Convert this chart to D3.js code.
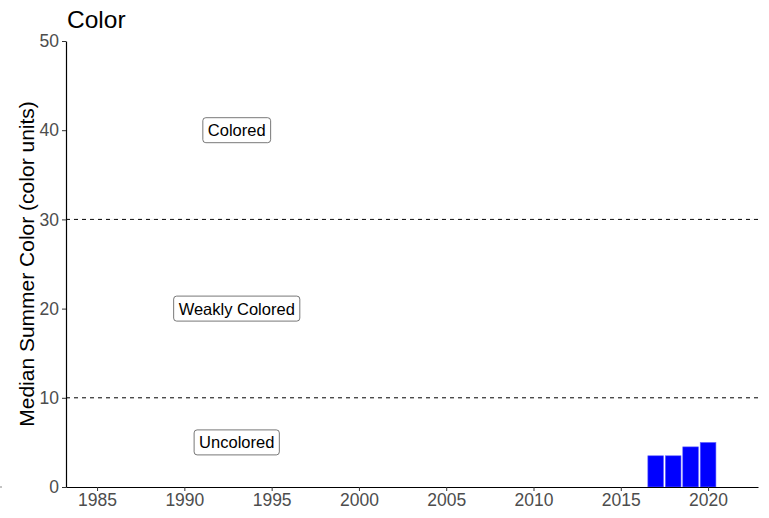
<!DOCTYPE html>
<html>
<head>
<meta charset="utf-8">
<script src="https://cdn.jsdelivr.net/npm/d3@7"></script>
<style>
  body { margin: 0; background: #fff; }
  svg { display: block; font-family: "Liberation Sans", Arial, sans-serif; }
</style>
</head>
<body>
<div id="chart"></div>
<script>
// Data
const years = [2017, 2018, 2019, 2020];
const colorValues = [3.5, 3.5, 4.5, 5.0];
const thresholds = [10, 30];
const zoneLabels = ["Uncolored", "Weakly Colored", "Colored"];
const zoneLabelY = [5, 20, 40];
const zoneLabelX = 1993;
const xTicks = [1985, 1990, 1995, 2000, 2005, 2010, 2015, 2020];
const yTicks = [0, 10, 20, 30, 40, 50];

const width = 769, height = 518;
const margin = { top: 41, right: 11, bottom: 31, left: 66 };

const svg = d3.select('#chart')
    .append('svg')
    .attr('width', width)
    .attr('height', height);

const x = d3.scaleLinear()
    .domain([1983.22, 2022.86])
    .range([margin.left, width - margin.right]);

const y = d3.scaleLinear()
    .domain([0, 50])
    .range([height - margin.bottom, margin.top]);

// Threshold lines
svg.selectAll('line.thresh')
    .data(thresholds)
    .enter()
    .append('line')
    .attr('class', 'thresh')
    .attr('x1', margin.left)
    .attr('x2', width - margin.right)
    .attr('y1', d => y(d))
    .attr('y2', d => y(d))
    .attr('stroke', '#000')
    .attr('stroke-width', 1)
    .attr('stroke-dasharray', '4,4');

// Bars
const barW = 0.9;
svg.selectAll('rect.bar')
    .data(years)
    .enter()
    .append('rect')
    .attr('class', 'bar')
    .attr('x', d => x(d - barW / 2))
    .attr('width', d => x(d + barW / 2) - x(d - barW / 2))
    .attr('y', (d, i) => y(colorValues[i]))
    .attr('height', (d, i) => y(0) - y(colorValues[i]))
    .attr('fill', '#0000ff')
    .attr('stroke', '#6a6aff')
    .attr('stroke-width', 0.6);

// Zone labels
zoneLabels.forEach((lab, i) => {
    const g = svg.append('g')
        .attr('transform', `translate(${x(zoneLabelX)},${y(zoneLabelY[i])})`);
    const t = g.append('text')
        .attr('text-anchor', 'middle')
        .attr('dy', '0.36em')
        .style('font-size', '16.5px')
        .attr('fill', '#000')
        .text(lab);
    const bb = t.node().getBBox();
    g.insert('rect', 'text')
        .attr('x', bb.x - 5)
        .attr('y', -12.5)
        .attr('width', bb.width + 10)
        .attr('height', 25)
        .attr('rx', 3)
        .attr('fill', '#fff')
        .attr('stroke', '#555')
        .attr('stroke-width', 0.8);
});

// Axes
const xAxis = svg.append('g')
    .attr('transform', `translate(0,${height - margin.bottom})`)
    .call(d3.axisBottom(x).tickValues(xTicks).tickFormat(d3.format('d')).tickSize(4).tickPadding(3).tickSizeOuter(0));

const yAxis = svg.append('g')
    .attr('transform', `translate(${margin.left},0)`)
    .call(d3.axisLeft(y).tickValues(yTicks).tickSize(4).tickPadding(3).tickSizeOuter(0));

[xAxis, yAxis].forEach(a => {
    a.attr('font-size', null).attr('font-family', null);
    a.select('.domain').attr('stroke', '#000').attr('stroke-width', 1.2);
    a.selectAll('.tick line').attr('stroke', '#333');
    a.selectAll('.tick text')
        .attr('fill', '#4d4d4d')
        .style('font-size', '17.5px');
});

// Title and axis label
svg.append('text')
    .attr('x', 67)
    .attr('y', 28)
    .style('font-size', '24.5px')
    .attr('fill', '#000')
    .text('Color');

svg.append('text')
    .attr('transform', `translate(34,${(margin.top + height - margin.bottom) / 2}) rotate(-90)`)
    .attr('text-anchor', 'middle')
    .style('font-size', '21px')
    .attr('fill', '#000')
    .text('Median Summer Color (color units)');

// stray mark at left edge
svg.append('line')
    .attr('x1', 0).attr('x2', 2)
    .attr('y1', y(0)).attr('y2', y(0))
    .attr('stroke', '#888');
</script>
</body>
</html>
